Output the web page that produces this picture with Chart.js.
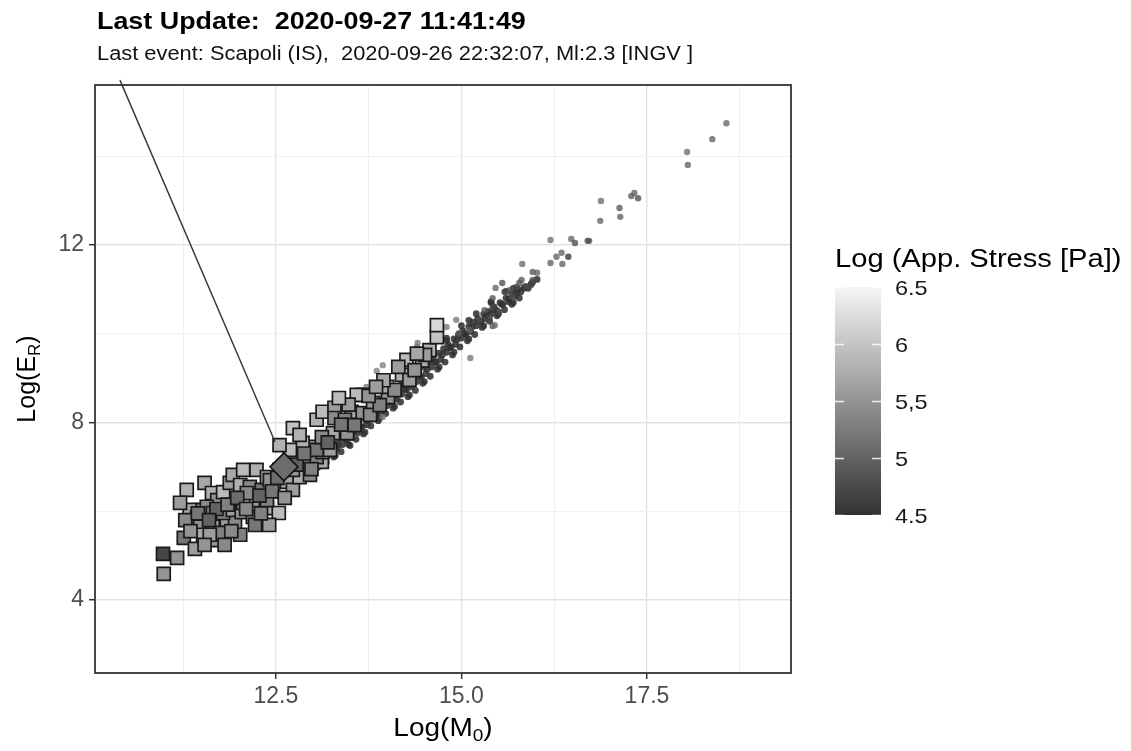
<!DOCTYPE html>
<html lang="en">
<head>
  <meta charset="UTF-8">
  <title>Log(ER) vs Log(M0)</title>
  <script src="https://cdn.jsdelivr.net/npm/chart.js"></script>
  <style>
    html, body { margin: 0; padding: 0; background: #fff; }
    #wrap { width: 1131px; height: 751px; }
  </style>
</head>
<body>
  <div id="wrap"><canvas id="chart" width="1131" height="751"></canvas></div>
  <script>
    // axis ranges and ticks
    const xMin = 10.064, xMax = 19.44;
    const yMin = 2.356, yMax = 15.6;
    const xMajorTicks = [12.5, 15, 17.5];
    const xMinorTicks = [11.25, 13.75, 16.25, 18.75];
    const xTickLabels = ['12.5', '15.0', '17.5'];
    const yMajorTicks = [4, 8, 12];
    const yMinorTicks = [6, 10, 14];
    const yTickLabels = ['4', '8', '12'];

    // colour bar
    const legendTicks = [4.5, 5, 5.5, 6, 6.5];
    const legendLabels = ['4.5', '5', '5,5', '6', '6.5'];

    // events with squares (Log M0, Log ER, Log app. stress)
    const squareX = [10.98, 11.17, 10.99, 11.30, 11.26, 11.41, 11.34, 11.52, 11.44, 11.38,
      11.48, 11.65, 11.84, 11.95, 11.52, 11.65, 11.75, 11.61, 11.54, 11.64,
      11.71, 11.79, 11.57, 11.65, 11.79, 11.92, 12.04, 12.19, 12.38, 12.54,
      12.41, 11.88, 11.92, 12.02, 12.06, 12.15, 12.24, 12.31, 12.38, 12.19,
      12.06, 12.11, 12.38, 12.65, 12.73, 12.82, 12.73, 12.92, 13.12, 13.05,
      13.13, 13.23, 13.00, 12.86, 12.69, 12.55, 12.73, 12.82, 13.13, 13.27,
      13.46, 13.05, 13.13, 13.29, 13.29, 13.52, 13.67, 13.67, 13.59, 13.81,
      14.01, 14.00, 14.20, 14.26, 14.47, 14.57, 14.67, 14.67, 13.05, 13.12,
      11.21, 11.28, 11.54, 11.81, 12.02, 12.22, 12.42, 12.55, 12.96, 13.43,
      13.56, 13.77, 13.90, 14.10, 14.30, 14.37, 14.51,
      11.45, 11.70, 11.85, 11.98, 12.10, 12.28, 12.45, 12.52, 12.62, 12.78,
      12.88, 12.98, 13.20, 13.38, 13.48, 13.75, 13.95, 14.15, 14.40, 11.60,
      11.90, 12.30, 11.35, 13.35, 13.85];
    const squareY = [5.04, 4.95, 4.59, 6.48, 5.40, 5.15, 6.03, 6.03, 5.87, 5.69,
      5.65, 5.65, 5.80, 5.74, 5.47, 5.35, 5.51, 5.47, 6.64, 6.41,
      6.25, 6.43, 6.10, 5.96, 5.96, 6.03, 5.98, 5.87, 6.07, 5.96,
      5.69, 6.64, 6.82, 6.59, 6.93, 6.55, 6.93, 6.48, 6.25, 6.25,
      6.19, 6.41, 6.77, 6.66, 6.48, 6.77, 6.93, 7.11, 7.11, 7.22,
      7.33, 7.38, 7.45, 7.54, 7.38, 7.49, 7.87, 7.72, 7.65, 7.76,
      7.76, 8.06, 8.24, 8.33, 8.10, 8.24, 8.21, 8.62, 8.62, 8.44,
      8.57, 8.80, 9.07, 9.41, 9.39, 9.63, 9.92, 10.19, 7.38, 7.67,
      6.19, 5.80, 5.24, 5.24, 5.47, 5.69, 6.70, 6.93, 6.82, 8.06,
      7.94, 8.17, 8.39, 8.73, 8.96, 9.18, 9.52,
      5.95, 6.05, 6.15, 6.30, 6.05, 6.35, 6.45, 6.75, 6.30, 7.05,
      7.30, 6.95, 7.55, 7.95, 8.40, 8.60, 8.95, 9.25, 9.55, 5.80,
      5.55, 5.95, 5.55, 8.55, 8.80];
    const squareStress = [4.7, 5.5, 5.5, 5.8, 5.2, 5.6, 5.7, 5.4, 5.3, 5.1,
      5.5, 5.7, 5.6, 5.4, 5.7, 5.5, 5.3, 5.6, 5.7, 5.8,
      5.5, 5.9, 5.4, 5.2, 5.3, 5.6, 5.5, 5.2, 5.7, 5.9,
      5.6, 5.6, 5.7, 5.8, 5.9, 5.4, 5.8, 5.2, 5.3, 5.6,
      5.5, 5.4, 5.6, 5.7, 5.6, 5.8, 5.5, 5.4, 5.7, 5.3,
      5.5, 5.6, 5.7, 5.8, 5.9, 5.8, 6.0, 5.8, 5.6, 5.7,
      5.5, 5.8, 5.9, 5.6, 5.4, 5.7, 5.5, 5.8, 5.9, 5.6,
      5.5, 5.7, 5.8, 5.9, 5.7, 5.8, 6.0, 6.2, 5.2, 5.4,
      5.6, 5.4, 5.5, 5.4, 5.3, 5.2, 5.5, 5.3, 5.4, 5.3,
      5.2, 5.4, 5.3, 5.4, 5.6, 5.5, 5.6,
      5.2, 5.0, 5.3, 5.1, 5.4, 5.0, 5.2, 5.1, 5.5, 5.0,
      5.2, 5.3, 5.0, 5.2, 5.6, 5.5, 5.7, 5.6, 5.7, 5.0,
      5.4, 5.3, 5.5, 5.9, 5.6];

    // dense band of small dark dots
    const bandX = [12.30, 12.34, 12.38, 12.42, 12.46, 12.50, 12.52, 12.56, 12.60, 12.62,
      12.66, 12.70, 12.72, 12.76, 12.80, 12.82, 12.86, 12.90, 12.92, 12.96,
      13.00, 13.02, 13.06, 13.10, 13.12, 13.16, 13.20, 13.22, 13.26, 13.30,
      13.32, 13.36, 13.40, 13.42, 13.46, 13.50, 13.52, 13.56, 13.60, 13.62,
      13.66, 13.70, 13.72, 13.76, 13.80, 13.82, 13.86, 13.90, 13.92, 13.96,
      14.00, 14.02, 14.06, 14.10, 14.12, 14.16, 14.20, 14.22, 14.26, 14.30,
      14.32, 14.36, 14.40, 14.42, 14.46, 14.50, 14.52, 14.56, 14.60, 14.62,
      14.66, 14.70, 14.72, 14.76, 14.80, 14.82, 14.86, 14.90, 14.92, 14.96,
      15.00, 15.02, 15.06, 15.10, 15.12, 15.16, 15.20, 15.22, 15.26, 15.30,
      15.32, 15.36, 15.40, 15.44, 15.48, 15.52, 15.56, 15.60, 15.64, 15.68,
      15.72, 15.76, 15.80, 15.86, 15.90, 15.96, 16.02,
      12.50, 12.80, 13.10, 13.30, 13.50, 13.70, 13.90, 14.10, 14.30, 14.50,
      14.70, 14.90, 15.10, 15.30, 15.50, 15.70,
      12.70, 13.00, 13.30, 13.60, 13.90, 14.20, 14.50, 14.80, 15.10, 15.40, 15.70,
      13.04, 13.14, 13.24, 13.34, 13.44, 13.54, 13.64, 13.74, 13.84, 13.94,
      14.04, 14.14, 14.24, 14.34, 14.44, 14.54, 14.64, 14.74, 14.84, 14.94,
      15.04, 15.14, 15.24, 15.34, 15.44, 15.54, 15.64, 15.74, 15.84, 15.94,
      13.06, 13.18, 13.28, 13.38, 13.48, 13.58, 13.68, 13.78, 13.88, 13.98,
      14.08, 14.18, 14.28, 14.38, 14.48, 14.58, 14.68, 14.78, 14.88, 14.98,
      15.08, 15.18, 15.28, 15.38, 15.48, 15.58, 15.68, 15.78,
      13.20, 13.40, 13.60, 13.80, 14.00, 14.20, 14.40, 14.60, 14.80, 15.00,
      15.20, 15.40, 15.60];
    const bandY = [6.30, 6.45, 6.38, 6.55, 6.40, 6.62, 6.50, 6.70, 6.58, 6.75,
      6.64, 6.85, 6.72, 6.92, 6.84, 7.00, 6.90, 7.10, 6.95, 7.18,
      7.05, 7.22, 7.12, 7.30, 7.18, 7.38, 7.28, 7.45, 7.36, 7.52,
      7.40, 7.62, 7.50, 7.70, 7.60, 7.78, 7.66, 7.90, 7.76, 8.00,
      7.90, 8.10, 7.95, 8.20, 8.08, 8.30, 8.18, 8.38, 8.25, 8.50,
      8.38, 8.58, 8.48, 8.66, 8.52, 8.76, 8.64, 8.84, 8.74, 8.92,
      8.80, 9.02, 8.92, 9.12, 9.02, 9.24, 9.10, 9.36, 9.25, 9.44,
      9.36, 9.56, 9.42, 9.66, 9.58, 9.76, 9.70, 9.88, 9.76, 9.98,
      9.90, 10.06, 9.98, 10.16, 10.05, 10.26, 10.18, 10.34, 10.28, 10.44,
      10.34, 10.50, 10.44, 10.60, 10.52, 10.70, 10.66, 10.80, 10.72, 10.90,
      10.84, 11.00, 10.94, 11.06, 11.02, 11.16, 11.22,
      6.35, 6.70, 7.02, 7.25, 7.48, 7.78, 8.10, 8.36, 8.62, 8.92,
      9.25, 9.58, 9.88, 10.18, 10.45, 10.70,
      7.02, 7.35, 7.70, 8.08, 8.50, 8.90, 9.38, 9.85, 10.30, 10.70, 11.02,
      7.16, 7.22, 7.34, 7.48, 7.62, 7.78, 7.90, 8.04, 8.20, 8.36,
      8.46, 8.60, 8.74, 8.88, 9.04, 9.20, 9.36, 9.52, 9.68, 9.86,
      10.00, 10.14, 10.28, 10.42, 10.54, 10.66, 10.78, 10.90, 11.02, 11.12,
      6.98, 7.10, 7.22, 7.34, 7.50, 7.62, 7.74, 7.92, 8.04, 8.20,
      8.32, 8.46, 8.58, 8.72, 8.88, 9.04, 9.20, 9.36, 9.52, 9.70,
      9.84, 9.98, 10.14, 10.28, 10.40, 10.54, 10.66, 10.80,
      7.55, 7.85, 8.15, 8.45, 8.70, 8.98, 9.25, 9.55, 9.90, 10.18,
      10.45, 10.72, 10.95];
    const bandStress = 4.5;

    // scattered small dots
    const dotX = [15.42, 15.55, 15.46, 15.58, 15.65, 15.74, 15.78, 15.81, 15.87, 15.94,
      15.69, 15.42, 15.51, 15.31, 15.38, 15.24, 15.42, 14.93, 15.11, 14.97,
      15.12, 15.82, 15.96, 16.02, 15.96, 16.20, 16.28, 16.35, 16.44, 16.20,
      16.36, 16.48, 16.53, 16.70, 16.72, 16.87, 16.88, 17.13, 17.14, 17.29,
      17.33, 17.38, 18.04, 18.05, 18.38, 18.57, 14.80, 14.41, 14.40, 13.94,
      13.86, 13.72, 15.45, 13.94];
    const dotY = [10.80, 11.14, 11.03, 10.94, 10.98, 11.05, 11.14, 11.21, 11.07, 11.10,
      10.83, 10.60, 10.49, 10.53, 10.37, 10.31, 10.17, 10.31, 10.08, 10.01,
      9.45, 11.57, 11.39, 11.37, 11.21, 12.11, 11.73, 11.82, 11.73, 11.59,
      11.57, 12.13, 12.04, 12.09, 12.09, 12.54, 12.99, 12.83, 12.63, 13.10,
      13.17, 13.05, 14.09, 13.80, 14.38, 14.74, 10.15, 9.79, 9.70, 9.29,
      9.16, 8.80, 10.19, 8.12];
    const dotStress = [4.9, 4.8, 5.0, 4.7, 4.8, 4.7, 4.8, 4.9, 4.8, 4.7,
      4.8, 4.7, 4.8, 4.9, 4.7, 4.8, 4.9, 5.2, 5.0, 4.9,
      5.2, 5.1, 4.9, 5.0, 4.8, 5.1, 5.0, 5.0, 4.5, 5.0,
      5.0, 5.0, 4.8, 4.8, 4.8, 5.0, 5.1, 4.9, 5.0, 4.9,
      5.0, 4.8, 5.1, 5.0, 5.0, 5.0, 5.2, 5.2, 5.2, 5.3,
      5.3, 5.2, 5.1, 5.2];

    // last event and its pointer line
    const lastEventX = [12.61];
    const lastEventY = [7.00];
    const lastEventStress = [5.1];
    const pointerX = [10.40, 12.49];
    const pointerY = [15.71, 7.56];

    const FONT = '"Liberation Sans", Arial, Helvetica, sans-serif';
    const STRETCH = 1.12;

    function grayFor(s, a) {
      const t = Math.max(0, Math.min(1, (s - 4.5) / 2));
      const g = Math.round(50 + t * 195);
      return 'rgba(' + g + ',' + g + ',' + g + ',' + a + ')';
    }
    function zip(xs, ys) {
      return xs.map((x, i) => ({ x: x, y: ys[i] }));
    }
    function isMajor(list, v) {
      return list.some(m => Math.abs(m - v) < 1e-6);
    }

    function drawText(ctx, text, x, y, font, color, align) {
      ctx.save();
      ctx.font = font;
      ctx.fillStyle = color;
      ctx.textBaseline = 'alphabetic';
      ctx.textAlign = align || 'left';
      ctx.translate(x, y);
      ctx.scale(STRETCH, 1);
      ctx.fillText(text, 0, 0);
      ctx.restore();
    }

    // main text, axis titles with subscripts and the colour bar
    const decorations = {
      id: 'decorations',
      afterDatasetsDraw(chart) {
        const ctx = chart.ctx;
        const a = chart.chartArea;
        ctx.save();
        ctx.strokeStyle = '#333333';
        ctx.lineWidth = 1.8;
        ctx.strokeRect(a.left, a.top, a.right - a.left, a.bottom - a.top);
        ctx.restore();
      },
      afterDraw(chart) {
        const ctx = chart.ctx;
        const a = chart.chartArea;

        drawText(ctx, 'Last Update:  2020-09-27 11:41:49', a.left + 2, 29, 'bold 24px ' + FONT, '#000');
        drawText(ctx, 'Last event: Scapoli (IS),  2020-09-26 22:32:07, Ml:2.3 [INGV ]', a.left + 2, 60, '19.5px ' + FONT, '#111');

        // x title: Log(M0)
        ctx.save();
        const big = '25px ' + FONT, small = '17px ' + FONT;
        ctx.font = big;
        const w1 = ctx.measureText('Log(M').width;
        const w3 = ctx.measureText(')').width;
        ctx.font = small;
        const w2 = ctx.measureText('0').width;
        ctx.restore();
        let total = (w1 + w2 + w3) * STRETCH;
        let x0 = (a.left + a.right) / 2 - total / 2;
        const by = 736;
        drawText(ctx, 'Log(M', x0, by, big, '#000');
        drawText(ctx, '0', x0 + w1 * STRETCH, by + 5, small, '#000');
        drawText(ctx, ')', x0 + (w1 + w2) * STRETCH, by, big, '#000');

        // y title: Log(ER), rotated
        ctx.save();
        ctx.font = big;
        const v1 = ctx.measureText('Log(E').width;
        const v3 = ctx.measureText(')').width;
        ctx.font = small;
        const v2 = ctx.measureText('R').width;
        const vt = v1 + v2 + v3;
        ctx.translate(35, (a.top + a.bottom) / 2);
        ctx.rotate(-Math.PI / 2);
        ctx.fillStyle = '#000';
        ctx.textBaseline = 'alphabetic';
        ctx.textAlign = 'left';
        ctx.font = big;
        ctx.fillText('Log(E', -vt / 2, 0);
        ctx.font = small;
        ctx.fillText('R', -vt / 2 + v1, 5);
        ctx.font = big;
        ctx.fillText(')', -vt / 2 + v1 + v2, 0);
        ctx.restore();

        // colour bar legend
        const barL = a.right + 44, barR = barL + 46, barT = 287, barB = 515;
        const yOf = s => barB - (s - 4.5) / 2 * (barB - barT);
        drawText(ctx, 'Log (App. Stress [Pa])', barL, 267, '26px ' + FONT, '#000');
        ctx.save();
        const grad = ctx.createLinearGradient(0, barB, 0, barT);
        grad.addColorStop(0, grayFor(4.5, 1));
        grad.addColorStop(1, grayFor(6.5, 1));
        ctx.fillStyle = grad;
        ctx.fillRect(barL, barT, barR - barL, barB - barT);
        ctx.strokeStyle = 'rgba(255,255,255,0.85)';
        ctx.lineWidth = 1.5;
        legendTicks.forEach(s => {
          const y = Math.round(yOf(s)) + 0.5;
          ctx.beginPath();
          ctx.moveTo(barL, y); ctx.lineTo(barL + 9, y);
          ctx.moveTo(barR - 9, y); ctx.lineTo(barR, y);
          ctx.stroke();
        });
        ctx.restore();
        legendTicks.forEach((s, i) => {
          drawText(ctx, legendLabels[i], barR + 14, yOf(s) + 7.5, '21px ' + FONT, '#1a1a1a');
        });
      }
    };

    function gridOpts(majors) {
      return {
        color: c => (c.tick && isMajor(majors, c.tick.value)) ? '#e3e3e3' : '#f0f0f0',
        lineWidth: c => (c.tick && isMajor(majors, c.tick.value)) ? 1.4 : 1,
        tickColor: c => (c.tick && isMajor(majors, c.tick.value)) ? '#333333' : 'rgba(0,0,0,0)',
        tickLength: 6,
        tickWidth: 1.5,
        drawTicks: true
      };
    }

    const ctx = document.getElementById('chart').getContext('2d');
    const chart = new Chart(ctx, {
      type: 'scatter',
      data: {
        datasets: [
          {
            label: 'pointer',
            data: zip(pointerX, pointerY),
            showLine: true,
            pointRadius: 0,
            borderColor: '#333333',
            borderWidth: 1.4,
            clip: false,
            order: 0
          },
          {
            label: 'last event',
            data: zip(lastEventX, lastEventY),
            pointStyle: 'rectRot',
            pointRadius: 14,
            backgroundColor: lastEventStress.map(s => grayFor(s, 1)),
            borderColor: '#111111',
            borderWidth: 1.6,
            order: 1
          },
          {
            label: 'squares',
            data: zip(squareX, squareY),
            pointStyle: 'rect',
            pointRadius: 9.2,
            backgroundColor: squareStress.map(s => grayFor(s, 1)),
            borderColor: '#1a1a1a',
            borderWidth: 1.7,
            order: 2
          },
          {
            label: 'dots',
            data: zip(dotX, dotY),
            pointStyle: 'circle',
            pointRadius: 3.2,
            backgroundColor: dotStress.map(s => grayFor(s, 0.78)),
            borderWidth: 0,
            order: 3
          },
          {
            label: 'band',
            data: zip(bandX, bandY),
            pointStyle: 'circle',
            pointRadius: 3.4,
            backgroundColor: grayFor(bandStress, 0.88),
            borderWidth: 0,
            order: 4
          }
        ]
      },
      options: {
        responsive: false,
        animation: false,
        events: [],
        layout: { padding: { top: 85, right: 340, bottom: 0, left: 0 } },
        plugins: { legend: { display: false }, tooltip: { enabled: false }, title: { display: false } },
        scales: {
          x: {
            type: 'linear',
            min: xMin,
            max: xMax,
            afterBuildTicks: s => { s.ticks = xMinorTicks.concat(xMajorTicks).sort((p, q) => p - q).map(v => ({ value: v })); },
            afterFit: s => { s.height = 78; },
            ticks: {
              autoSkip: false,
              maxRotation: 0,
              padding: 4,
              color: '#4d4d4d',
              font: { family: FONT, size: 23 },
              callback: v => { const i = xMajorTicks.findIndex(m => Math.abs(m - v) < 1e-6); return i >= 0 ? xTickLabels[i] : ''; }
            },
            grid: gridOpts(xMajorTicks),
            border: { display: false }
          },
          y: {
            type: 'linear',
            min: yMin,
            max: yMax,
            afterBuildTicks: s => { s.ticks = yMinorTicks.concat(yMajorTicks).sort((p, q) => p - q).map(v => ({ value: v })); },
            afterFit: s => { s.width = 95; },
            ticks: {
              autoSkip: false,
              padding: 5,
              color: '#4d4d4d',
              font: { family: FONT, size: 23 },
              callback: v => { const i = yMajorTicks.findIndex(m => Math.abs(m - v) < 1e-6); return i >= 0 ? yTickLabels[i] : ''; }
            },
            grid: gridOpts(yMajorTicks),
            border: { display: false }
          }
        }
      },
      plugins: [decorations]
    });
  </script>
</body>
</html>
